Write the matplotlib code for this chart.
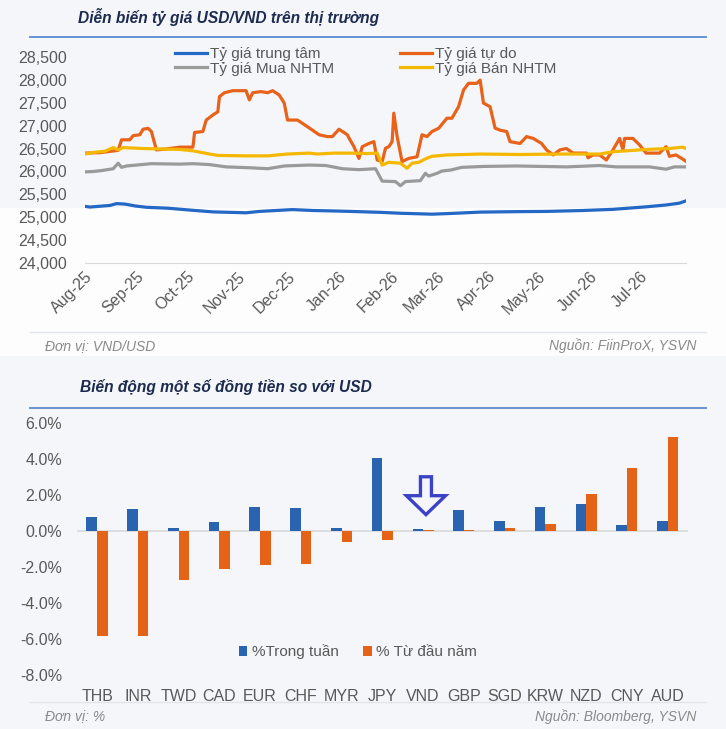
import numpy as np
import pandas as pd
import matplotlib
matplotlib.use('Agg')
import matplotlib.pyplot as plt
from matplotlib.lines import Line2D
from matplotlib.patches import FancyArrow, Polygon
from matplotlib.ticker import FuncFormatter
import matplotlib.dates as mdates

plt.rcParams['font.family'] = ['Liberation Sans', 'DejaVu Sans']

# ---- top chart data (VND per USD)
central_dates = ['2025-08-01', '2025-08-04', '2025-08-09', '2025-08-16', '2025-08-20', '2025-08-25', '2025-08-31', '2025-09-07',
                 '2025-09-20', '2025-10-03', '2025-10-17', '2025-11-06', '2025-11-14', '2025-11-24', '2025-12-04', '2025-12-16',
                 '2025-12-29', '2026-01-08', '2026-01-26', '2026-02-07', '2026-02-26', '2026-03-09', '2026-03-27', '2026-04-18',
                 '2026-05-06', '2026-05-28', '2026-06-15', '2026-07-05', '2026-07-17', '2026-07-25', '2026-07-29']
central_vals = [25240, 25225, 25240, 25260, 25300, 25290, 25250, 25220,
                25200, 25160, 25120, 25100, 25130, 25150, 25170, 25150,
                25140, 25130, 25110, 25090, 25070, 25085, 25115, 25125,
                25130, 25150, 25175, 25230, 25270, 25310, 25360]

free_dates = ['2025-08-01', '2025-08-10', '2025-08-21', '2025-08-23', '2025-08-28', '2025-08-30', '2025-09-03', '2025-09-05', '2025-09-08', '2025-09-10',
              '2025-09-13', '2025-09-19', '2025-09-27', '2025-10-05', '2025-10-06', '2025-10-11', '2025-10-13', '2025-10-17', '2025-10-20', '2025-10-21',
              '2025-10-24', '2025-10-29', '2025-11-06', '2025-11-08', '2025-11-10', '2025-11-15', '2025-11-19', '2025-11-22', '2025-11-26', '2025-11-29',
              '2025-12-01', '2025-12-07', '2025-12-13', '2025-12-16', '2025-12-20', '2025-12-25', '2025-12-28', '2026-01-01', '2026-01-06', '2026-01-07',
              '2026-01-10', '2026-01-13', '2026-01-15', '2026-01-19', '2026-01-22', '2026-01-24', '2026-01-27', '2026-01-29', '2026-01-31', '2026-02-02',
              '2026-02-03', '2026-02-05', '2026-02-08', '2026-02-12', '2026-02-17', '2026-02-20', '2026-02-23', '2026-02-26', '2026-03-02', '2026-03-07',
              '2026-03-10', '2026-03-14', '2026-03-17', '2026-03-20', '2026-03-25', '2026-03-27', '2026-03-29', '2026-04-02', '2026-04-05', '2026-04-08',
              '2026-04-12', '2026-04-14', '2026-04-20', '2026-04-24', '2026-04-28', '2026-05-03', '2026-05-06', '2026-05-10', '2026-05-14', '2026-05-18',
              '2026-05-22', '2026-05-30', '2026-05-31', '2026-06-03', '2026-06-07', '2026-06-11', '2026-06-15', '2026-06-19', '2026-06-21', '2026-06-22',
              '2026-06-27', '2026-07-01', '2026-07-05', '2026-07-13', '2026-07-17', '2026-07-19', '2026-07-23', '2026-07-27', '2026-07-29']
free_vals = [26400, 26410, 26460, 26690, 26690, 26780, 26800, 26920, 26940, 26870,
             26470, 26490, 26530, 26530, 26850, 26870, 27120, 27230, 27300, 27630,
             27715, 27760, 27760, 27560, 27715, 27740, 27715, 27760, 27665, 27490,
             27120, 27120, 26975, 26900, 26800, 26760, 26760, 26920, 26800, 26730,
             26540, 26285, 26540, 26610, 26650, 26250, 26215, 26505, 26540, 26650,
             27270, 26760, 26215, 26285, 26320, 26800, 26760, 26870, 26940, 27160,
             27160, 27410, 27775, 27920, 27920, 27990, 27490, 27410, 26945, 26900,
             26870, 26650, 26610, 26760, 26720, 26610, 26470, 26360, 26470, 26500,
             26400, 26400, 26300, 26360, 26360, 26250, 26470, 26720, 26470, 26720,
             26720, 26580, 26400, 26400, 26540, 26330, 26360, 26270, 26220]

buy_dates = ['2025-08-01', '2025-08-06', '2025-08-11', '2025-08-18', '2025-08-21', '2025-08-23', '2025-08-26', '2025-09-10', '2025-09-27', '2025-10-05',
             '2025-10-15', '2025-10-25', '2025-11-09', '2025-11-19', '2025-11-29', '2025-12-14', '2025-12-24', '2026-01-03', '2026-01-13', '2026-01-23',
             '2026-01-27', '2026-02-04', '2026-02-07', '2026-02-10', '2026-02-19', '2026-02-22', '2026-02-24', '2026-03-01', '2026-03-04', '2026-03-09',
             '2026-03-16', '2026-03-29', '2026-04-18', '2026-05-18', '2026-06-07', '2026-06-17', '2026-07-07', '2026-07-17', '2026-07-22', '2026-07-29']
buy_vals = [25990, 26000, 26020, 26060, 26180, 26090, 26120, 26170, 26160, 26170,
            26150, 26100, 26080, 26060, 26120, 26140, 26130, 26060, 26040, 26060,
            25790, 25780, 25690, 25780, 25800, 25960, 25900, 25960, 26010, 26030,
            26090, 26110, 26120, 26100, 26130, 26100, 26100, 26050, 26100, 26100]

sell_dates = ['2025-08-01', '2025-08-07', '2025-08-13', '2025-08-18', '2025-08-21', '2025-08-24', '2025-09-05', '2025-09-27', '2025-10-05', '2025-10-15',
              '2025-10-20', '2025-11-06', '2025-11-19', '2025-12-01', '2025-12-14', '2025-12-19', '2025-12-29', '2026-01-08', '2026-01-18', '2026-01-24',
              '2026-01-27', '2026-01-31', '2026-02-07', '2026-02-11', '2026-02-14', '2026-02-18', '2026-02-23', '2026-02-26', '2026-03-07', '2026-03-27',
              '2026-04-20', '2026-05-14', '2026-06-07', '2026-06-15', '2026-07-05', '2026-07-19', '2026-07-27', '2026-07-29']
sell_vals = [26380, 26420, 26440, 26520, 26470, 26520, 26500, 26480, 26450, 26380,
             26350, 26340, 26340, 26380, 26400, 26380, 26400, 26400, 26390, 26400,
             26140, 26200, 26180, 26070, 26180, 26200, 26290, 26330, 26360, 26380,
             26370, 26380, 26380, 26430, 26480, 26500, 26530, 26500]

# ---- bottom chart data (% change vs USD)
currencies = ['THB', 'INR', 'TWD', 'CAD', 'EUR', 'CHF', 'MYR', 'JPY', 'VND', 'GBP', 'SGD', 'KRW', 'NZD', 'CNY', 'AUD']
week_chg = [0.74, 1.21, 0.15, 0.49, 1.34, 1.27, 0.15, 4.06, 0.09, 1.13, 0.54, 1.34, 1.47, 0.30, 0.54]
ytd_chg = [-5.83, -5.83, -2.75, -2.12, -1.92, -1.84, -0.61, -0.49, 0.04, 0.03, 0.17, 0.37, 2.07, 3.48, 5.20]

W, H = 726, 729
navy = '#1c2b4f'
grey_txt = '#595959'
note_txt = '#8a8a8a'


def fx(px):
    return px / W


def fy(py):
    return 1 - py / H


fig = plt.figure(figsize=(W / 100, H / 100), dpi=100)
fig.patch.set_facecolor('#f5f6f9')

# faint watermark: white band under the top chart lines
fig.add_artist(Polygon([(0, fy(208)), (1, fy(208)), (1, fy(356)), (0, fy(356))], closed=True,
                       transform=fig.transFigure, fc='#fdfdfe', ec='none', zorder=0))

# frame lines and texts
for y, c, lw in [(37.3, '#5b8bd0', 1.3), (331.7, '#e2e4e8', 1.0), (407.7, '#5b8bd0', 1.3), (701.7, '#e2e4e8', 1.0)]:
    fig.add_artist(Line2D([fx(30), fx(706)], [fy(y), fy(y)], color=c, lw=lw, transform=fig.transFigure))

fig.text(fx(78), fy(17), 'Diễn biến tỷ giá USD/VND trên thị trường', fontsize=11.2, fontweight='bold',
         fontstyle='italic', color=navy, va='center', ha='left')
fig.text(fx(80), fy(387), 'Biến động một số đồng tiền so với USD', fontsize=11.2, fontweight='bold',
         fontstyle='italic', color=navy, va='center', ha='left')
fig.text(fx(45), fy(346), 'Đơn vị: VND/USD', fontsize=10, fontstyle='italic', color=note_txt, va='center')
fig.text(fx(696), fy(346), 'Nguồn: FiinProX, YSVN', fontsize=10, fontstyle='italic', color=note_txt, va='center', ha='right')
fig.text(fx(45), fy(716.5), 'Đơn vị: %', fontsize=10, fontstyle='italic', color=note_txt, va='center')
fig.text(fx(696), fy(716.5), 'Nguồn: Bloomberg, YSVN', fontsize=10, fontstyle='italic', color=note_txt, va='center', ha='right')

# ---- top chart
ax1 = fig.add_axes([fx(85), fy(263.3), fx(686 - 85), (263.3 - 56.7) / H])
ax1.patch.set_alpha(0)
series = [
    (central_dates, central_vals, '#2368c4', 'Tỷ giá trung tâm'),
    (buy_dates, buy_vals, '#9a9a9a', 'Tỷ giá Mua NHTM'),
    (free_dates, free_vals, '#e8621a', 'Tỷ giá tự do'),
    (sell_dates, sell_vals, '#f5b800', 'Tỷ giá Bán NHTM'),
]
for d, v, c, lab in series:
    ax1.plot(pd.to_datetime(d), v, color=c, lw=2.3, label=lab, solid_joinstyle='round')

ax1.set_ylim(24000, 28500)
ax1.set_yticks(np.arange(24000, 28501, 500))
ax1.yaxis.set_major_formatter(FuncFormatter(lambda v, p: '{:,.0f}'.format(v)))
ax1.set_xlim(pd.Timestamp('2025-08-01'), pd.Timestamp('2026-07-29'))
ax1.xaxis.set_major_locator(mdates.MonthLocator())
ax1.xaxis.set_major_formatter(mdates.DateFormatter('%b-%y'))
ax1.tick_params(axis='both', length=0, labelsize=11.5, labelcolor=grey_txt)
ax1.tick_params(axis='y', pad=13)
ax1.tick_params(axis='x', pad=4)
for lab in ax1.get_xticklabels():
    lab.set_rotation(45)
    lab.set_ha('right')
    lab.set_rotation_mode('anchor')
for s in ['top', 'right', 'left']:
    ax1.spines[s].set_visible(False)
ax1.spines['bottom'].set_color('#d9d9d9')

ax1.legend(ncol=2, loc='upper left', bbox_to_anchor=(fx(175), fy(47)), bbox_transform=fig.transFigure,
           frameon=False, fontsize=11, labelcolor=grey_txt, handlelength=2.1, handletextpad=0.2,
           columnspacing=4.3, labelspacing=0.05, borderpad=0, borderaxespad=0)

# ---- bottom chart
ax2 = fig.add_axes([fx(76.7), fy(675), fx(688 - 76.7), (675 - 422.7) / H])
ax2.patch.set_alpha(0)
xi = np.arange(len(currencies))
bw = 0.26
ax2.bar(xi - bw / 2, week_chg, bw, color='#2a63b0', label='%Trong tuần')
ax2.bar(xi + bw / 2, ytd_chg, bw, color='#e46317', label='% Từ đầu năm')
ax2.axhline(0, color='#d9d9d9', lw=1.2, zorder=0)
ax2.set_xlim(-0.5, len(currencies) - 0.5)
ax2.set_ylim(-8, 6)
ax2.set_yticks(np.arange(-8, 6.1, 2))
ax2.yaxis.set_major_formatter(FuncFormatter(lambda v, p: '{:.1f}%'.format(v)))
ax2.set_xticks(xi)
ax2.set_xticklabels(currencies)
ax2.tick_params(axis='both', length=0, labelsize=11.5, labelcolor=grey_txt)
ax2.tick_params(axis='x', pad=10)
ax2.tick_params(axis='y', pad=10.5)
for s in ax2.spines.values():
    s.set_visible(False)

ax2.legend(ncol=2, loc='center left', bbox_to_anchor=(fx(239), fy(652)), bbox_transform=fig.transFigure,
           frameon=False, fontsize=11, labelcolor=grey_txt, handlelength=0.55, handleheight=0.55,
           handletextpad=0.3, columnspacing=1.6, borderpad=0, borderaxespad=0)

# hollow arrow pointing at VND
vi = currencies.index('VND')
ax2.add_patch(FancyArrow(vi + 0.07, 3.0, 0, -2.1, width=0.27, head_width=0.96, head_length=1.05,
                         length_includes_head=True, fill=False, ec='#3b42c8', lw=2.4, zorder=5))

fig.savefig('out.png', dpi=100, facecolor=fig.get_facecolor())
